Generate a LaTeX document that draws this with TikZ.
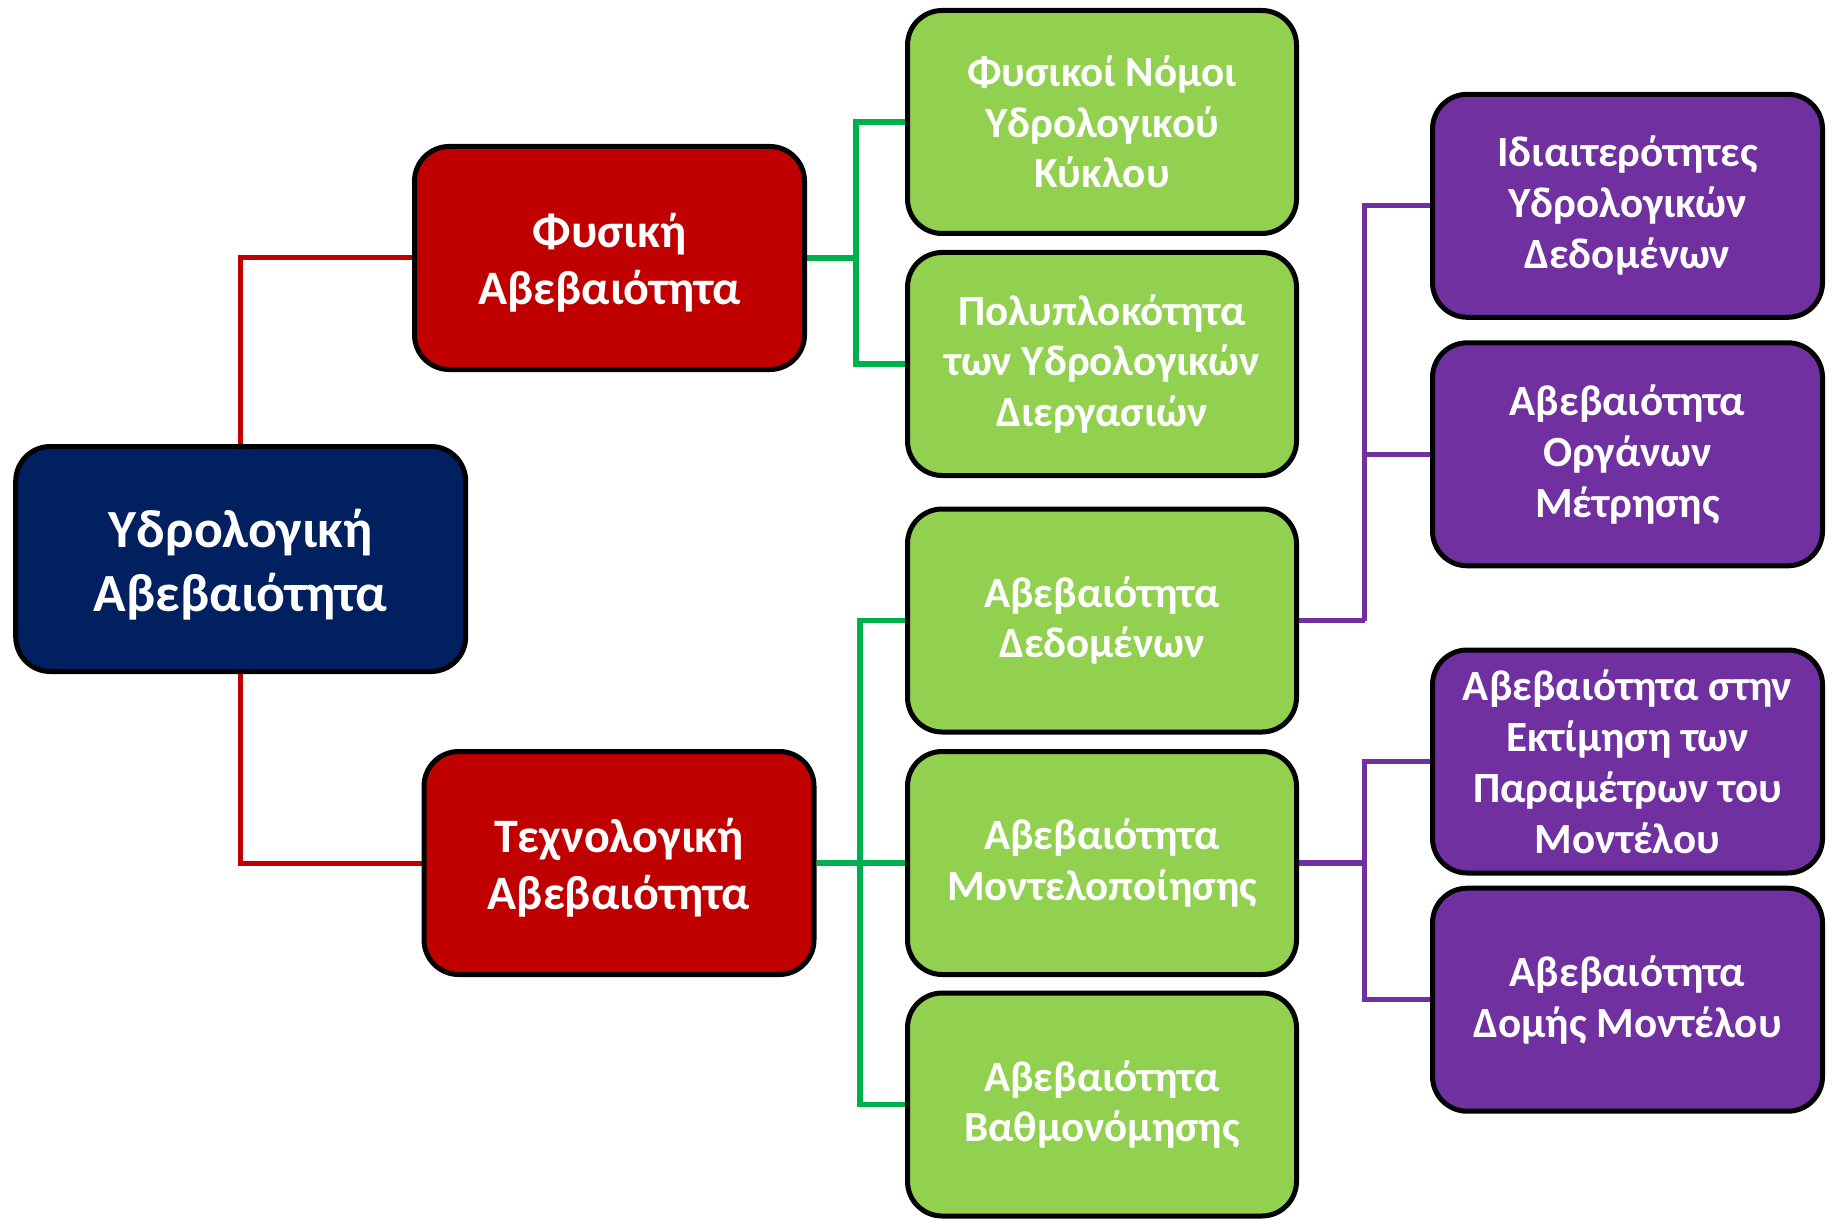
\documentclass[tikz,border=0pt]{standalone}
\usepackage{fontspec}
\setmainfont{Carlito}
\usetikzlibrary{backgrounds}
\definecolor{navyc}{HTML}{002060}
\definecolor{redc}{HTML}{C00000}
\definecolor{greenc}{HTML}{92D050}
\definecolor{purplec}{HTML}{7030A0}
\definecolor{glinec}{HTML}{00B050}
\newcommand{\topstrut}[1]{\rule{0pt}{#1}}
\tikzset{
  x=0.75pt, y=-0.75pt,
  boxbase/.style={draw=black, line width=3.75pt, rounded corners=26pt, align=center, text=white, inner sep=0pt, minimum height=167.25pt},
  rootbox/.style={boxbase, fill=navyc, minimum width=337.5pt, minimum height=168.75pt, font=\fontsize{40.3}{48}\selectfont\bfseries},
  redbox/.style={boxbase, fill=redc, minimum width=292.5pt, font=\fontsize{36}{42.75}\selectfont\bfseries},
  greenbox/.style={boxbase, fill=greenc, minimum width=291.75pt, font=\fontsize{32.3}{37.7}\selectfont\bfseries},
  purplebox/.style={boxbase, fill=purplec, minimum width=292.5pt, font=\fontsize{32.3}{38.3}\selectfont\bfseries},
  redline/.style={draw=redc, line width=3.75pt},
  greenline/.style={draw=glinec, line width=4pt},
  purpleline/.style={draw=purplec, line width=4pt}
}
\begin{document}
\begin{tikzpicture}
\useasboundingbox (0,0) rectangle (1833,1219);
\node[rootbox] (root) at (240.7,559) {\topstrut{0.92em}Υδρολογική\\Αβεβαιότητα};
\node[redbox] (phys) at (609.5,258) {\topstrut{0.9em}Φυσική\\Αβεβαιότητα};
\node[redbox] (tech) at (619,863) {\topstrut{0.9em}Τεχνολογική\\Αβεβαιότητα};
\node[greenbox] (g1) at (1102,122) {Φυσικοί Νόμοι\\Υδρολογικού\\Κύκλου};
\node[greenbox] (g2) at (1102,364) {Πολυπλοκότητα\\των Υδρολογικών\\Διεργασιών};
\node[greenbox] (g3) at (1102,620.5) {Αβεβαιότητα\\Δεδομένων};
\node[greenbox] (g4) at (1102,863) {Αβεβαιότητα\\Μοντελοποίησης};
\node[greenbox] (g5) at (1102,1104.5) {Αβεβαιότητα\\Βαθμονόμησης};
\node[purplebox] (p1) at (1627.5,205.8) {Ιδιαιτερότητες\\Υδρολογικών\\Δεδομένων};
\node[purplebox] (p2) at (1627.5,454.3) {Αβεβαιότητα\\Οργάνων\\Μέτρησης};
\node[purplebox] (p3) at (1627.5,761.5) {Αβεβαιότητα στην\\Εκτίμηση των\\Παραμέτρων του\\Μοντέλου};
\node[purplebox] (p4) at (1627.5,999.7) {Αβεβαιότητα\\Δομής Μοντέλου};
\coordinate (gA) at (856,258);
\coordinate (gB) at (860,863);
\coordinate (pA) at (1364.5,620.5);
\coordinate (pB) at (1364.5,863);
\begin{scope}[on background layer]
\draw[redline] (root.north) |- (phys.west);
\draw[redline] (root.south) |- (tech.west);
\draw[greenline] (phys.east) -- (gA);
\draw[greenline] (gA) |- (g1.west);
\draw[greenline] (gA) |- (g2.west);
\draw[greenline] (tech.east) -- (g4.west);
\draw[greenline] (gB) |- (g3.west);
\draw[greenline] (gB) |- (g5.west);
\draw[purpleline] (g3.east) -- (pA);
\draw[purpleline] (pA) |- (p1.west);
\draw[purpleline] (pA) |- (p2.west);
\draw[purpleline] (g4.east) -- (pB);
\draw[purpleline] (pB) |- (p3.west);
\draw[purpleline] (pB) |- (p4.west);
\end{scope}
\end{tikzpicture}
\end{document}
